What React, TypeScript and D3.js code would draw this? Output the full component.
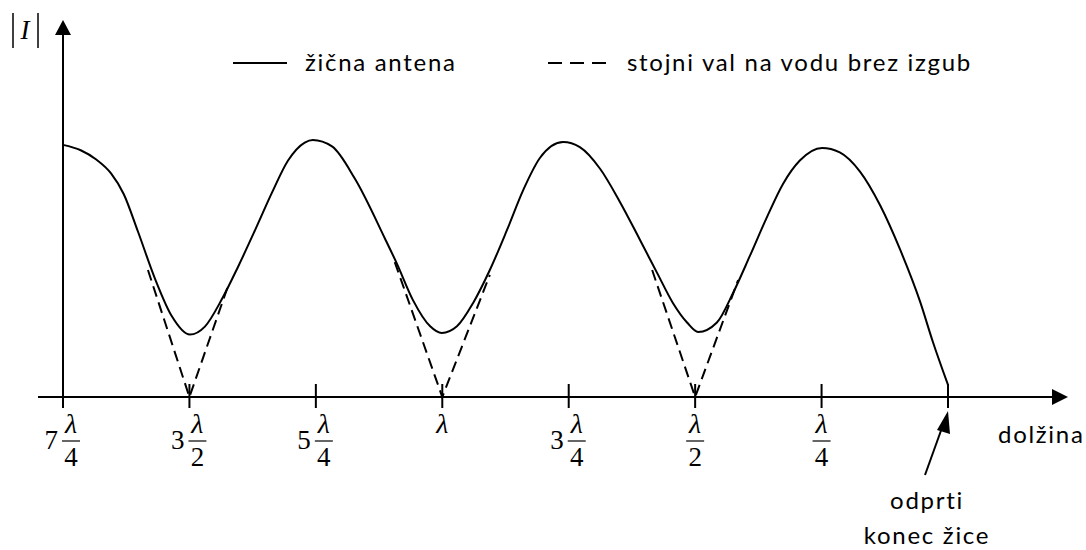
import React from "react";
import * as d3 from "d3";

// distance from the open end of the wire, in wavelengths (λ)
const distance = [
  1.75, 1.715, 1.685, 1.655, 1.63, 1.602, 1.568, 1.535, 1.499, 1.469, 1.436, 1.404, 1.37, 1.337, 1.305, 1.272, 1.256,
  1.218, 1.173, 1.113, 1.09, 1.058, 1.024, 1.001, 0.971, 0.939, 0.906, 0.872, 0.84, 0.807, 0.761, 0.728, 0.688,
  0.649, 0.609, 0.575, 0.544, 0.516, 0.494, 0.457, 0.425, 0.392, 0.358, 0.326, 0.293, 0.249, 0.214, 0.174, 0.134,
  0.095, 0.055, 0.03, 0.0,
];
// |I| on the wire antenna (relative)
const antenna = [
  0.981, 0.96, 0.925, 0.87, 0.79, 0.645, 0.46, 0.315, 0.243, 0.275, 0.38, 0.506, 0.65, 0.794, 0.92, 0.99, 1.0,
  0.975, 0.85, 0.615, 0.52, 0.377, 0.275, 0.249, 0.275, 0.366, 0.494, 0.65, 0.805, 0.93, 0.992, 0.972, 0.888,
  0.76, 0.611, 0.482, 0.366, 0.29, 0.253, 0.29, 0.405, 0.548, 0.7, 0.83, 0.92, 0.969, 0.952, 0.877, 0.745,
  0.575, 0.37, 0.215, 0.047,
];
// lossless-line standing wave near the minima (dashed V's)
const standingD = [
  [1.582, 1.5, 1.424],
  [1.094, 1.0, 0.906],
  [0.585, 0.5, 0.415],
];
const standingV = [
  [0.494, 0, 0.43],
  [0.525, 0, 0.475],
  [0.494, 0, 0.455],
];

const tickValues = [1.75, 1.5, 1.25, 1, 0.75, 0.5, 0.25, 0];
const tickWhole = ["7", "3", "5", "", "3", "", "", ""];
const tickNum = ["λ", "λ", "λ", "λ", "λ", "λ", "λ", ""];
const tickDen = ["4", "2", "4", "", "4", "2", "4", ""];

const legendLabels = ["žična antena", "stojni val na vodu brez izgub"];
const xTitle = "dolžina";
const yTitle = "I";
const noteLines = ["odprti", "konec žice"];

const SANS = "Lato, 'Open Sans', sans-serif";
const SERIF = "'Liberation Serif', 'Times New Roman', serif";
const LS = 1.7;

export default function App() {
  const x = d3.scaleLinear().domain([1.75, 0]).range([63, 948]);
  const y = d3.scaleLinear().domain([0, 1]).range([397, 140]);
  const y0 = y(0);
  const x0 = x(1.75);

  const line = d3
    .line<[number, number]>()
    .x((d) => x(d[0]))
    .y((d) => y(d[1]))
    .curve(d3.curveMonotoneX);
  const straight = d3
    .line<[number, number]>()
    .x((d) => x(d[0]))
    .y((d) => y(d[1]));

  const antPts: [number, number][] = distance.map((d, i) => [d, antenna[i]]);

  return (
    <svg
      width={1086}
      height={550}
      style={{ position: "absolute", left: 0, top: 0, background: "#fff" }}
    >
      {/* axes */}
      <line x1={38} y1={y0} x2={1055} y2={y0} stroke="#000" strokeWidth={2} />
      <path d={`M1068,${y0} L1052,${y0 - 8} L1052,${y0 + 8} Z`} fill="#000" />
      <line x1={x0} y1={408} x2={x0} y2={32} stroke="#000" strokeWidth={2} />
      <path d={`M${x0},20 L${x0 - 8},35 L${x0 + 8},35 Z`} fill="#000" />

      {/* ticks */}
      {tickValues.map((t, i) => (
        <line key={"t" + i} x1={x(t)} x2={x(t)} y1={384} y2={408} stroke="#000" strokeWidth={2} />
      ))}

      {/* tick labels */}
      {tickValues.map((t, i) => {
        const cx = x(t);
        if (!tickNum[i]) return null;
        if (!tickDen[i]) {
          return (
            <text key={"l" + i} x={cx} y={433} textAnchor="middle" fontFamily={SERIF} fontStyle="italic" fontSize={28}>
              {tickNum[i]}
            </text>
          );
        }
        const fx = tickWhole[i] ? cx + 8 : cx;
        return (
          <g key={"l" + i}>
            {tickWhole[i] && (
              <text x={cx - 5} y={449} textAnchor="end" fontFamily={SERIF} fontSize={27}>
                {tickWhole[i]}
              </text>
            )}
            <text x={fx} y={433} textAnchor="middle" fontFamily={SERIF} fontStyle="italic" fontSize={28}>
              {tickNum[i]}
            </text>
            <line x1={fx - 9} x2={fx + 9} y1={441} y2={441} stroke="#000" strokeWidth={1.2} />
            <text x={fx} y={466} textAnchor="middle" fontFamily={SERIF} fontSize={27}>
              {tickDen[i]}
            </text>
          </g>
        );
      })}

      {/* dashed standing wave */}
      {standingD.map((ds, k) => (
        <path
          key={"s" + k}
          d={straight(ds.map((d, i) => [d, standingV[k][i]] as [number, number])) || ""}
          fill="none"
          stroke="#000"
          strokeWidth={2}
          strokeDasharray="11,6"
        />
      ))}

      {/* antenna current */}
      <path d={line(antPts) || ""} fill="none" stroke="#000" strokeWidth={2} />

      {/* y title |I| */}
      <line x1={13} x2={13} y1={13} y2={48} stroke="#000" strokeWidth={1.5} />
      <line x1={38} x2={38} y1={13} y2={48} stroke="#000" strokeWidth={1.5} />
      <text x={25} y={39} textAnchor="middle" fontFamily={SERIF} fontStyle="italic" fontSize={27}>
        {yTitle}
      </text>

      {/* legend */}
      <line x1={233} x2={287} y1={63} y2={63} stroke="#000" strokeWidth={2} />
      <text x={305} y={71} fontFamily={SANS} fontSize={24} letterSpacing={LS}>
        {legendLabels[0]}
      </text>
      <line x1={548} x2={608} y1={63} y2={63} stroke="#000" strokeWidth={2} strokeDasharray="14,8" />
      <text x={627} y={71} fontFamily={SANS} fontSize={24} letterSpacing={LS}>
        {legendLabels[1]}
      </text>

      {/* x title */}
      <text x={998} y={443} fontFamily={SANS} fontSize={24} letterSpacing={LS}>
        {xTitle}
      </text>

      {/* annotation */}
      <line x1={925} y1={475} x2={943} y2={425} stroke="#000" strokeWidth={2} />
      <path d="M948,411 L937,430 L950,434 Z" fill="#000" />
      {noteLines.map((s, i) => (
        <text key={"n" + i} x={927} y={509 + i * 35} textAnchor="middle" fontFamily={SANS} fontSize={24} letterSpacing={LS}>
          {s}
        </text>
      ))}
    </svg>
  );
}
